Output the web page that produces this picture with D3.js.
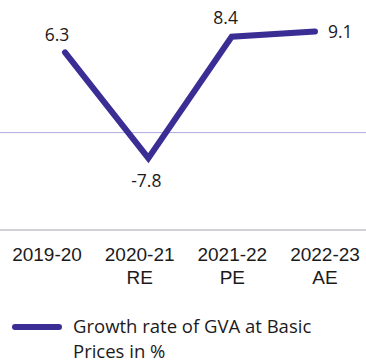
<!DOCTYPE html>
<html>
<head>
<meta charset="utf-8">
<script src="https://cdn.jsdelivr.net/npm/d3@7"></script>
<style>
  html, body { margin: 0; padding: 0; background: #ffffff; }
  svg { display: block; }
  text { font-family: "Open Sans", "Noto Sans", sans-serif; fill: #1c1a1b; }
  text.cat { font-family: "Liberation Sans", Arial, sans-serif; }
</style>
</head>
<body>
<svg id="chart" width="366" height="363"></svg>
<script>
// Growth rate of GVA at basic prices (%)
const years = ["2019-20", "2020-21", "2021-22", "2022-23"];
const estimateTags = ["", "RE", "PE", "AE"];
const growth = [6.3, -7.8, 8.4, 9.1];
const gridValues = [-4.4];
const seriesName = ["Growth rate of GVA at Basic", "Prices in %"];

const lineColor = "#3a2e95";
const svg = d3.select("#chart");

const x = d3.scalePoint().domain(years).range([65, 315]);
const xLabel = d3.scalePoint().domain(years).range([47, 325]);
const y = d3.scaleLinear().domain([-17.4, 9.1]).range([230, 31.5]);

// light horizontal guide
svg.selectAll("line.grid")
  .data(gridValues)
  .join("line")
  .attr("class", "grid")
  .attr("x1", 0).attr("x2", 366)
  .attr("y1", d => y(d)).attr("y2", d => y(d))
  .attr("stroke", "#aeaadf")
  .attr("stroke-width", 1);

// baseline of the plot area
svg.append("line")
  .attr("x1", 0).attr("x2", 366)
  .attr("y1", y(-17.4)).attr("y2", y(-17.4))
  .attr("stroke", "#d2d1da")
  .attr("stroke-width", 2);

const data = years.map((yr, i) => ({ yr, v: growth[i], tag: estimateTags[i] }));

svg.append("path")
  .datum(data)
  .attr("fill", "none")
  .attr("stroke", lineColor)
  .attr("stroke-width", 6)
  .attr("stroke-linecap", "round")
  .attr("stroke-linejoin", "miter")
  .attr("d", d3.line().x(d => x(d.yr)).y(d => y(d.v)));

// value labels
const labelOffsets = [
  { dx: -8, dy: -11, anchor: "middle" },
  { dx: -2, dy: 29, anchor: "middle" },
  { dx: -6, dy: -13, anchor: "middle" },
  { dx: 13, dy: 6, anchor: "start" }
];
svg.selectAll("text.val")
  .data(data)
  .join("text")
  .attr("class", "val")
  .attr("x", (d, i) => x(d.yr) + labelOffsets[i].dx)
  .attr("y", (d, i) => y(d.v) + labelOffsets[i].dy)
  .attr("text-anchor", (d, i) => labelOffsets[i].anchor)
  .style("font-size", "17.5px")
  .text(d => d.v.toFixed(1));

// category labels: year with the estimate tag on a second line
svg.selectAll("text.cat")
  .data(data)
  .join("text")
  .attr("class", "cat")
  .attr("y", 261)
  .attr("text-anchor", "middle")
  .style("font-size", "19px")
  .each(function (d) {
    const t = d3.select(this);
    t.append("tspan").attr("x", xLabel(d.yr)).text(d.yr);
    if (d.tag) t.append("tspan").attr("x", xLabel(d.yr)).attr("dy", 22.5).text(d.tag);
  });

// legend
svg.append("line")
  .attr("x1", 15).attr("x2", 59)
  .attr("y1", 327).attr("y2", 327)
  .attr("stroke", lineColor)
  .attr("stroke-width", 6)
  .attr("stroke-linecap", "round");
svg.append("text")
  .attr("x", 73).attr("y", 333)
  .style("font-size", "18.5px")
  .selectAll("tspan")
  .data(seriesName)
  .join("tspan")
  .attr("x", 73)
  .attr("dy", (d, i) => i === 0 ? 0 : 25)
  .text(d => d);
</script>
</body>
</html>
